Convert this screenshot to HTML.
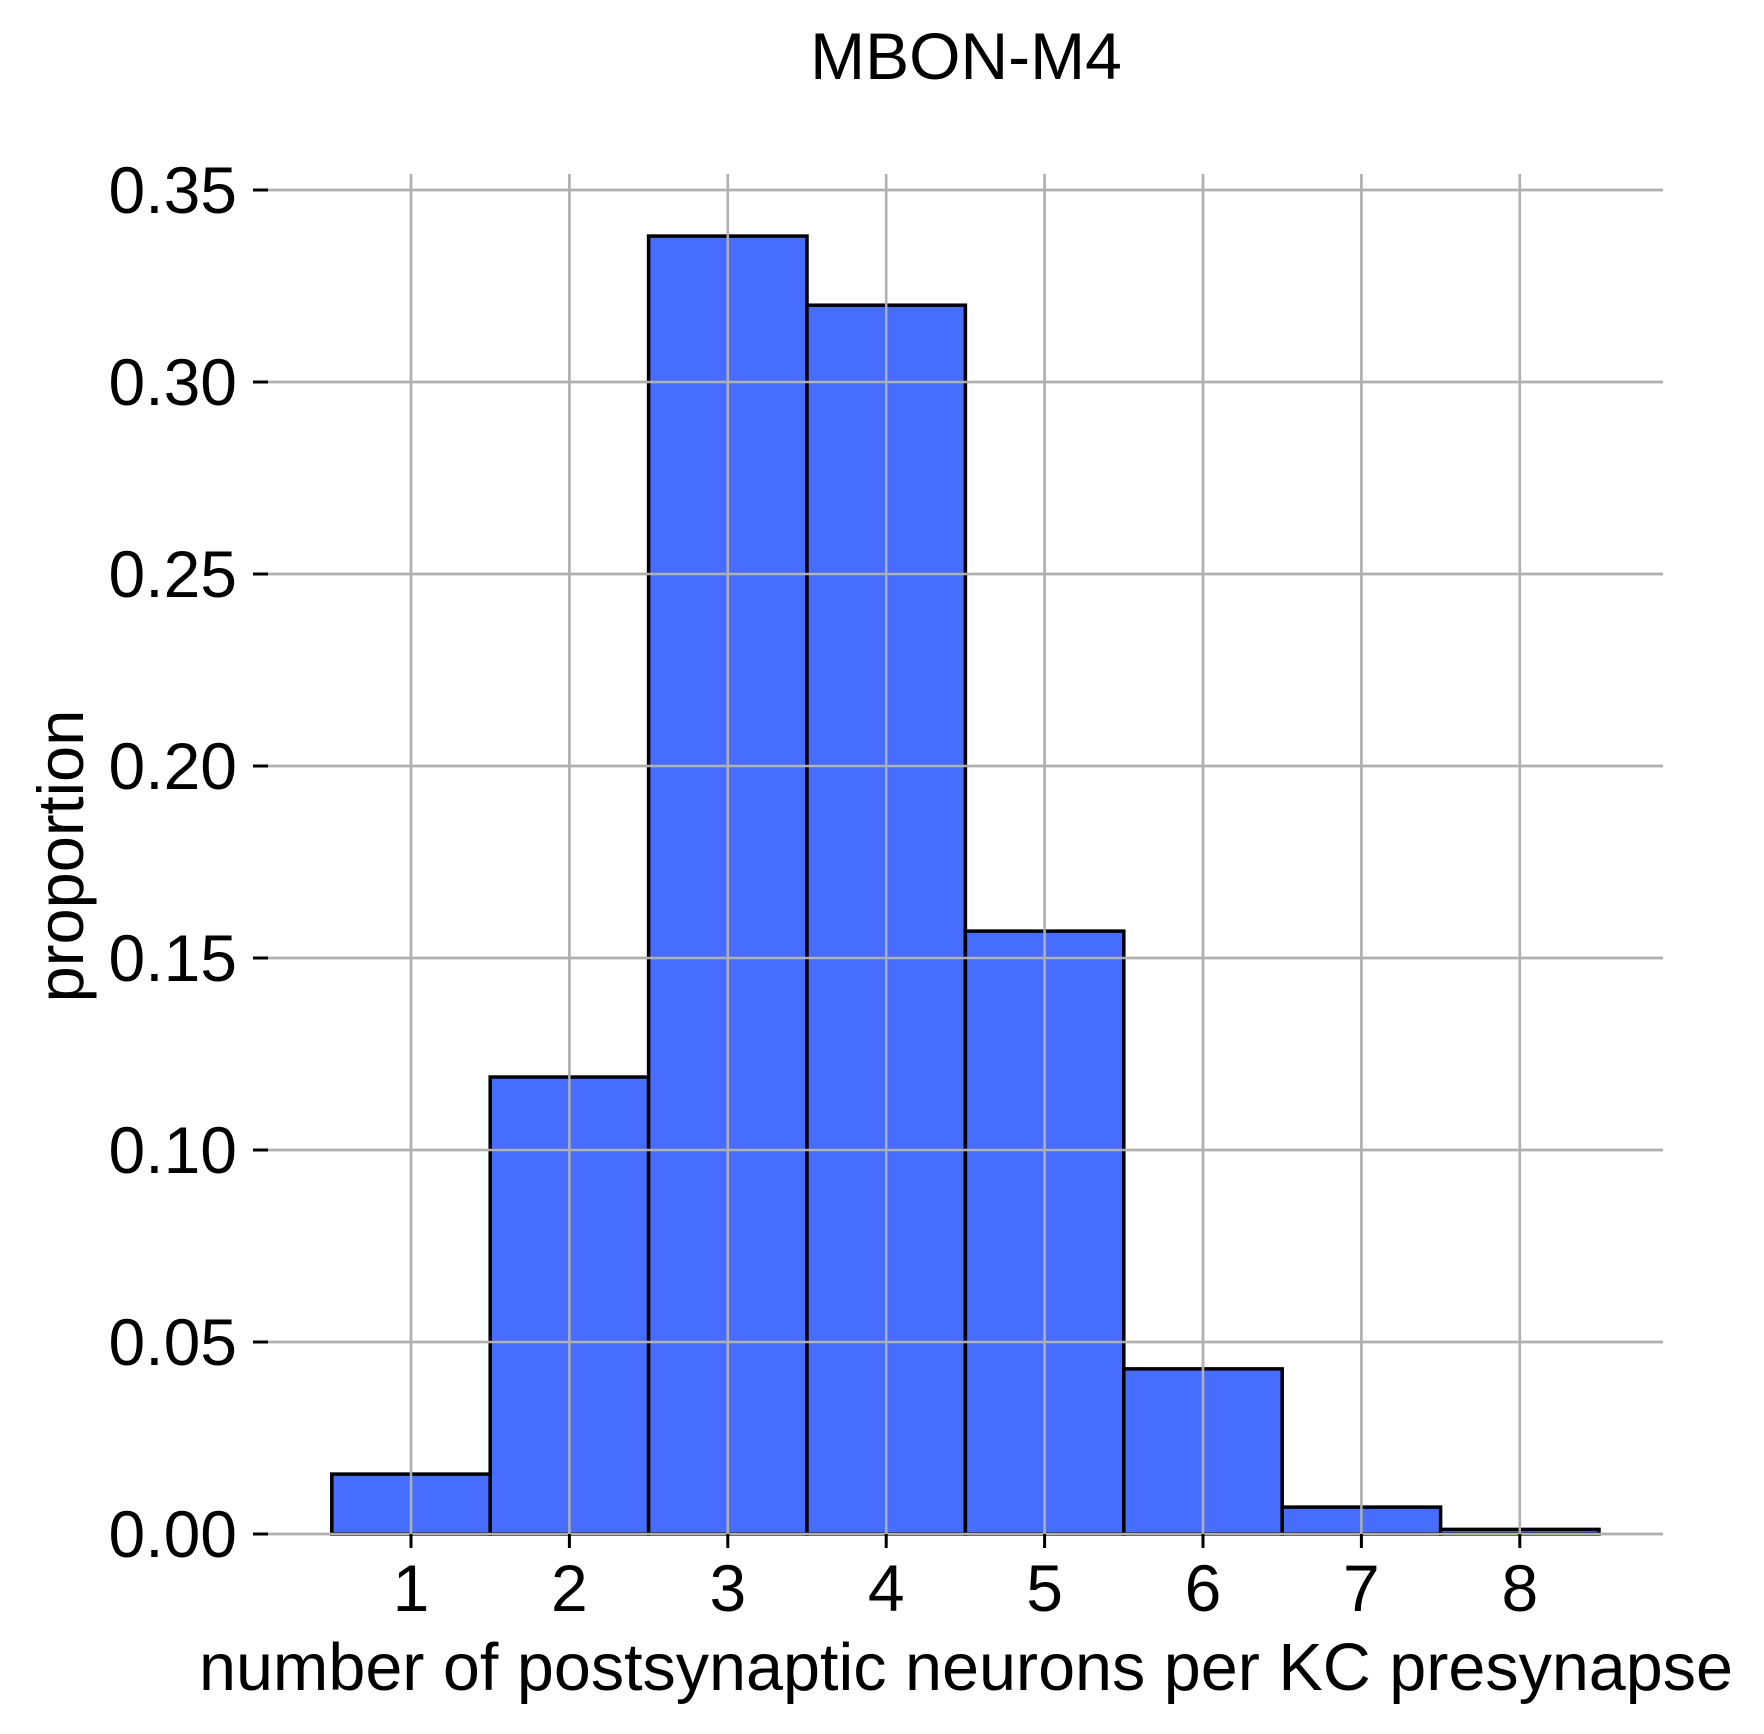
<!DOCTYPE html>
<html><head><meta charset="utf-8"><style>
html,body{margin:0;padding:0;background:#fff;}
svg{display:block;font-family:"Liberation Sans",Arial,sans-serif;}
</style></head><body>
<svg id="chart" width="1764" height="1734" viewBox="0 0 1764 1734">
<text x="966" y="79" font-size="66" text-anchor="middle">MBON-M4</text>
<g id="grid"></g><g id="bars"></g><g id="axes"></g>
<text x="966" y="1690" font-size="66.5" text-anchor="middle">number of postsynaptic neurons per KC presynapse</text>
<text transform="translate(83,856) rotate(-90)" font-size="65" text-anchor="middle">proportion</text>
</svg>
<script>
const categories = [1, 2, 3, 4, 5, 6, 7, 8];
const proportions = [0.0156, 0.119, 0.338, 0.320, 0.157, 0.043, 0.007, 0.0012];
const yTicks = [0, 0.05, 0.10, 0.15, 0.20, 0.25, 0.30, 0.35];
const yTickLabels = ["0.00", "0.05", "0.10", "0.15", "0.20", "0.25", "0.30", "0.35"];
const xTicks = [1, 2, 3, 4, 5, 6, 7, 8];

const NS = "http://www.w3.org/2000/svg";
function xs(v){ return 411 + (v - 1) * 158.4; }
function ys(v){ return 1534 - v * 3840; }
function mk(tag, attrs, parent){ const e = document.createElementNS(NS, tag); for (const k in attrs) e.setAttribute(k, attrs[k]); parent.appendChild(e); return e; }
const grid = document.getElementById('grid'), bars = document.getElementById('bars'), axes = document.getElementById('axes');

yTicks.forEach((t, i) => {
  const y = ys(t);
  const g = mk('line', {x1: 268, x2: 1663, y1: y, y2: y, stroke: '#b0b0b0', 'stroke-width': 2.5}, grid);
  
  
  const tk = mk('line', {x1: 253, x2: 268, y1: y, y2: y, stroke: '#000', 'stroke-width': 3}, axes);
  
  
  const lb = mk('text', {x: 237, y: y + 23, 'font-size': 66, 'text-anchor': 'end'}, axes);
  lb.textContent = yTickLabels[i];
  
  
});
xTicks.forEach(t => {
  const x = xs(t);
  const g = mk('line', {x1: x, x2: x, y1: 174, y2: 1534, stroke: '#b0b0b0', 'stroke-width': 2.5}, grid);
  
  
  const tk = mk('line', {x1: x, x2: x, y1: 1534, y2: 1548, stroke: '#000', 'stroke-width': 3}, axes);
  
  
  const lb = mk('text', {x: x, y: 1611, 'font-size': 66, 'text-anchor': 'middle'}, axes);
  lb.textContent = String(t);
  
  
});
categories.forEach((c, i) => {
  const x0 = xs(c - 0.5), x1 = xs(c + 0.5), y = ys(proportions[i]);
  const r = mk('rect', {x: x0, y: y, width: x1 - x0, height: ys(0) - y, fill: '#476dff', stroke: '#000', 'stroke-width': 3.5}, bars);
  
  
});
const gridTop = grid.cloneNode(true);


bars.parentNode.insertBefore(gridTop, axes);
</script>
</body></html>
